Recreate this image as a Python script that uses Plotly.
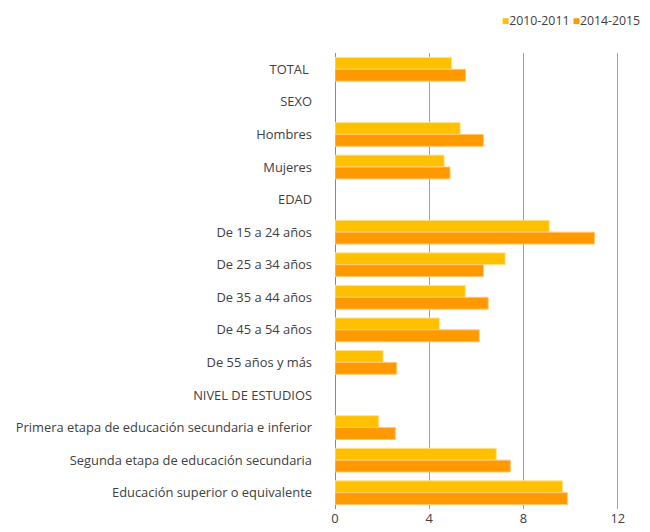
import plotly.graph_objects as go

categories = [
    "TOTAL\u00a0", "SEXO", "Hombres", "Mujeres", "EDAD",
    "De 15 a 24 años", "De 25 a 34 años", "De 35 a 44 años", "De 45 a 54 años",
    "De 55 años y más", "NIVEL DE ESTUDIOS",
    "Primera etapa de educación secundaria e inferior",
    "Segunda etapa de educación secundaria",
    "Educación superior o equivalente",
]
series_names = ["2010-2011", "2014-2015"]
values_2010 = [4.95, None, 5.31, 4.63, None, 9.09, 7.22, 5.53, 4.43, 2.04, None, 1.86, 6.84, 9.66]
values_2014 = [5.54, None, 6.30, 4.88, None, 11.01, 6.30, 6.50, 6.12, 2.62, None, 2.56, 7.44, 9.86]
x_ticks = [0, 4, 8, 12]

colors = ["#FFC000", "#FF9900"]
edge = ["#FFE38A", "#FFC870"]

fig = go.Figure()
for name, vals, c, e in zip(series_names, [values_2010, values_2014], colors, edge):
    fig.add_trace(go.Bar(
        y=categories, x=vals, name=name, orientation="h",
        marker=dict(color=c, line=dict(color=e, width=1)),
    ))

# compact legend like the reference (square + label)
legend_text = "".join(
    f"<span style='color:{c};font-size:12px'>■</span>{n}{'&nbsp;' if i == 0 else ''}"
    for i, (n, c) in enumerate(zip(series_names, colors))
)
fig.add_annotation(xref="paper", yref="paper", x=0.58, y=1.072, xanchor="left",
                   yanchor="middle", text=legend_text, showarrow=False,
                   font=dict(size=12.3, color="#404040"))

fig.update_layout(
    width=642, height=524,
    paper_bgcolor="white", plot_bgcolor="white",
    margin=dict(l=327, r=31, t=45, b=23, autoexpand=False),
    barmode="group", bargap=0.27, bargroupgap=0,
    font=dict(family="'Open Sans', Lato, sans-serif", size=12.9, color="#404040"),
    showlegend=False,
    xaxis=dict(range=[0, 12.05], tickvals=x_ticks, showgrid=True, gridcolor="#A0A0A0",
               gridwidth=1, zeroline=True, zerolinecolor="#8A8A8A", zerolinewidth=1,
               showline=False, ticks="", automargin=False),
    yaxis=dict(autorange="reversed", showgrid=False, showline=False, ticks="",
               ticklabelstandoff=22, automargin=False,
               categoryorder="array", categoryarray=categories),
)

fig.write_html("out.html")
